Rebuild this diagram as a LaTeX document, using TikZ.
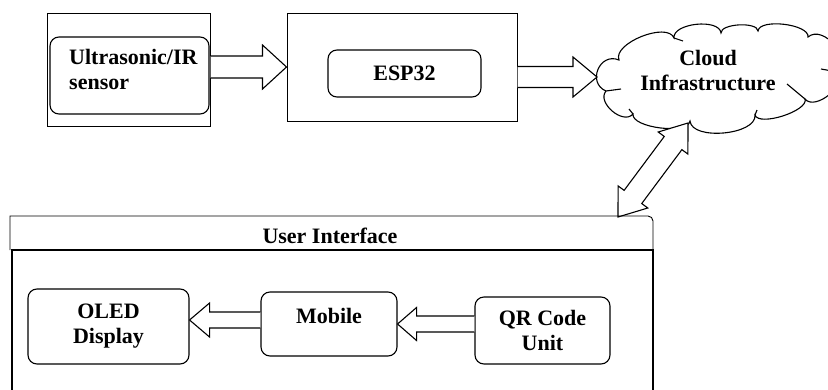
\documentclass[tikz,border=0pt]{standalone}
\usepackage{fontspec}
\setmainfont{Liberation Serif}
\usetikzlibrary{calc}
\tikzset{
 outbox/.style={draw, line width=1pt, inner sep=0pt},
 rbox/.style={draw, line width=1.1pt, rounded corners=9pt, inner sep=0pt, font=\bfseries\fontsize{22}{25}\selectfont, align=center},
 lbl/.style={font=\bfseries\fontsize{22}{25}\selectfont, align=center, inner sep=0pt},
 blk/.style={draw, line width=1.1pt, fill=white, line join=miter},
 cloudline/.style={draw, line width=1.1pt, line join=miter},
}
\newcommand\blockarr[5]{%
 \coordinate (bac) at ($(#2)!#5!(#1)$);
 \draw[blk] ($(#1)!#3!90:(#2)$) -- ($(bac)!#3!90:(#2)$) -- ($(bac)!#4!90:(#2)$) -- (#2) -- ($(bac)!#4!-90:(#2)$) -- ($(bac)!#3!-90:(#2)$) -- ($(#1)!#3!-90:(#2)$);
}
\newcommand\dblockarr[5]{%
 \coordinate (dbc) at ($(#2)!#5!(#1)$);
 \coordinate (dbd) at ($(#1)!#5!(#2)$);
 \draw[blk] (#2) -- ($(dbc)!#4!90:(#2)$) -- ($(dbc)!#3!90:(#2)$) -- ($(dbd)!#3!90:(#2)$) -- ($(dbd)!#4!90:(#2)$) -- (#1) -- ($(dbd)!#4!-90:(#2)$) -- ($(dbd)!#3!-90:(#2)$) -- ($(dbc)!#3!-90:(#2)$) -- ($(dbc)!#4!-90:(#2)$) -- cycle;
}
% puff from #1 to #2 bulging outward (clockwise traversal) by control distance #3
\newcommand\puff[3]{.. controls ($(#1)!#3!90:(#2)$) and ($(#2)!#3!-90:(#1)$) .. (#2)}
\begin{document}
\begin{tikzpicture}[x=1pt,y=-1pt]
\useasboundingbox (0,0) rectangle (828,389);
\clip (0,0) rectangle (828,389);
\fill[white] (0,0) rectangle (828,389);

% sensor
\node[outbox, minimum width=163pt, minimum height=113pt] (sensor) at (128.5,69.5) {};
\node[rbox, minimum width=159pt, minimum height=77pt] (sensorin) at (129.5,75.5) {};
\node[lbl, align=left, anchor=west] (sensortxt) at (69,69.5) {Ultrasonic/IR\\sensor};

% ESP32
\node[outbox, minimum width=230pt, minimum height=108pt] (esp) at (402,67) {};
\node[rbox, minimum width=153pt, minimum height=47pt] (espin) at (404.5,73.5) {ESP32};

% cloud (drawn directly)
\coordinate (c1) at (606,91);
\coordinate (c2) at (619,60);
\coordinate (c3) at (674,38);
\coordinate (c4) at (721,33);
\coordinate (c5) at (758,31);
\coordinate (c6) at (808,37);
\coordinate (c7) at (838,72);
\coordinate (c8) at (805,99);
\coordinate (c9) at (755,115);
\coordinate (c10) at (690,121);
\coordinate (c11) at (633,114);
\coordinate (cloudw) at (597,77);
\draw[cloudline] (c1) \puff{c1}{c2}{21pt} \puff{c2}{c3}{18pt} \puff{c3}{c4}{15pt}
  \puff{c4}{c5}{9.5pt} \puff{c5}{c6}{13pt} \puff{c6}{c7}{20pt} \puff{c7}{c8}{16pt}
  \puff{c8}{c9}{12.5pt} \puff{c9}{c10}{20pt} \puff{c10}{c11}{14pt} \puff{c11}{c1}{15pt};
% interior ticks of the cloud outline
\draw[cloudline] (c1) -- ++(15,-2);
\draw[cloudline] (c3) -- ++(9,3);
\draw[cloudline] (c7) -- ++(-17,-3);
\draw[cloudline] (c8) -- ++(-18,-15);
\draw[cloudline] (c9) -- ++(2,-5);
\draw[cloudline] (c11) -- ++(-4,-5);
\node[lbl] (cloudtxt) at (708,70.5) {Cloud\\Infrastructure};

% arrows top
\coordinate (a1s) at (sensor.east |- esp.west);
\blockarr{a1s}{esp.west}{11pt}{22pt}{24pt}
\coordinate (a2s) at (esp.east |- cloudw);
\blockarr{a2s}{cloudw}{10.5pt}{20pt}{24pt}

% double arrow
\coordinate (uitop) at (618,217);
\coordinate (cloudbot) at (688,123);
\dblockarr{uitop}{cloudbot}{11pt}{18.5pt}{25pt}

% user interface container
\draw[line width=1.4pt] (12,395) -- (12,250) -- (653,250) -- (653,395);
\draw[line width=0.9pt] (10,250) -- (10,216) {[rounded corners=5pt] -- (653,216) -- (653,250)};
\node[lbl] (uititle) at (330,235.8) {User Interface};

% inner boxes
\node[rbox, minimum width=161pt, minimum height=75pt] (oled) at (108.5,326.5) {OLED\\Display};
\node[rbox, minimum width=136pt, minimum height=64pt] (mobile) at (329,324) {};
\node[lbl] (mobiletxt) at (329,316) {Mobile};
\node[rbox, minimum width=135pt, minimum height=67pt] (qr) at (542.5,330.5) {QR Code\\Unit};

% arrows bottom
\coordinate (a3s) at ([yshift=4pt]mobile.west);
\coordinate (a3e) at (oled.east |- a3s);
\blockarr{a3s}{a3e}{8pt}{17pt}{20pt}
\coordinate (a4s) at (qr.west |- mobile.east);
\blockarr{a4s}{mobile.east}{8pt}{16.5pt}{19pt}
\end{tikzpicture}
\end{document}
